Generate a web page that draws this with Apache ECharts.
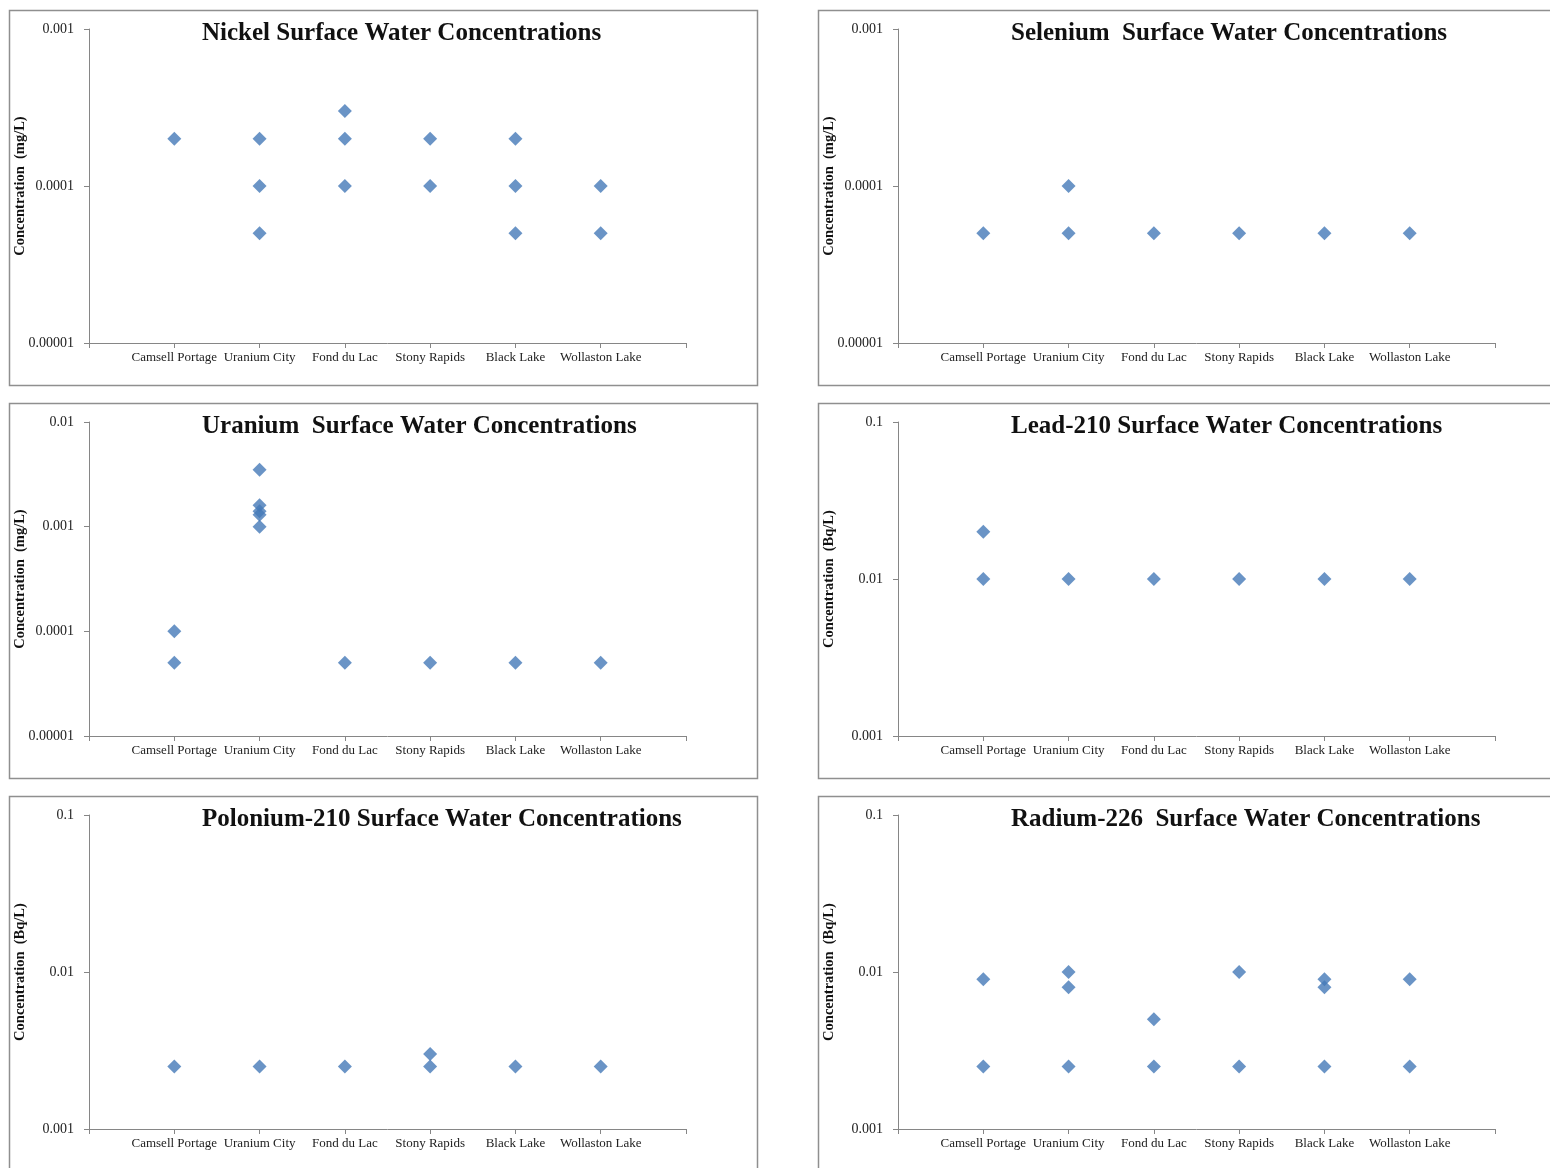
<!DOCTYPE html>
<html>
<head>
<meta charset="utf-8">
<script src="https://cdn.jsdelivr.net/npm/echarts@6/dist/echarts.min.js"></script>
<style>
html,body{margin:0;padding:0;background:#fff;}
#c{width:1550px;height:1168px;}
</style>
</head>
<body>
<div id="c"></div>
<script>
// ---- Data ----
const categories = ['Camsell Portage', 'Uranium City', 'Fond du Lac', 'Stony Rapids', 'Black Lake', 'Wollaston Lake'];

// values per site (index matches categories)
const nickel = [[0.0002], [0.0002, 0.0001, 0.00005], [0.0003, 0.0002, 0.0001], [0.0002, 0.0001], [0.0002, 0.0001, 0.00005], [0.0001, 0.00005]];
const selenium = [[0.00005], [0.0001, 0.00005], [0.00005], [0.00005], [0.00005], [0.00005]];
const uranium = [[0.0001, 0.00005], [0.0035, 0.0016, 0.0014, 0.0013, 0.001], [0.00005], [0.00005], [0.00005], [0.00005]];
const lead210 = [[0.02, 0.01], [0.01], [0.01], [0.01], [0.01], [0.01]];
const polonium210 = [[0.0025], [0.0025], [0.0025], [0.003, 0.0025], [0.0025], [0.0025]];
const radium226 = [[0.009, 0.0025], [0.01, 0.008, 0.0025], [0.005, 0.0025], [0.01, 0.0025], [0.009, 0.008, 0.0025], [0.009, 0.0025]];

const ticksMg5 = ['0.00001', '0.0001', '0.001'];
const ticksMgU = ['0.00001', '0.0001', '0.001', '0.01'];
const ticksBq = ['0.001', '0.01', '0.1'];

const titles = [
  'Nickel Surface Water Concentrations',
  'Selenium  Surface Water Concentrations',
  'Uranium  Surface Water Concentrations',
  'Lead-210 Surface Water Concentrations',
  'Polonium-210 Surface Water Concentrations',
  'Radium-226  Surface Water Concentrations'
];
const yNames = ['Concentration  (mg/L)', 'Concentration  (mg/L)', 'Concentration  (mg/L)', 'Concentration  (Bq/L)', 'Concentration  (Bq/L)', 'Concentration  (Bq/L)'];

const panels = [
  { data: nickel, ticks: ticksMg5 },
  { data: selenium, ticks: ticksMg5 },
  { data: uranium, ticks: ticksMgU },
  { data: lead210, ticks: ticksBq },
  { data: polonium210, ticks: ticksBq },
  { data: radium226, ticks: ticksBq }
];

// ---- Layout ----
const panelLeft = [9, 818];
const panelTop = [10, 403, 796];
const gridLeft = [89, 898];
const gridTop = [29, 422, 815];
const gridW = 597, gridH = 314;

const serif = '"Liberation Serif", "DejaVu Serif", serif';
const axisColor = '#868686';
const markerColor = '#4579B8';

const option = {
  backgroundColor: '#fff',
  animation: false,
  title: [],
  grid: [],
  xAxis: [],
  yAxis: [],
  series: [],
  graphic: []
};

panels.forEach((p, i) => {
  const col = i % 2, row = Math.floor(i / 2);
  // border
  option.graphic.push({
    type: 'rect', silent: true, z: -1,
    shape: { x: panelLeft[col] + 0.5, y: panelTop[row] + 0.5, width: col === 0 ? 748 : 800, height: row === 2 ? 420 : 375 },
    style: { fill: null, stroke: '#8f8f8f', lineWidth: 1.5 }
  });
  option.title.push({
    text: titles[i],
    left: panelLeft[col] + 188,
    top: panelTop[row] + 6,
    textStyle: { fontFamily: serif, fontWeight: 'bold', fontSize: 25, color: '#111' }
  });
  option.grid.push({ left: gridLeft[col], top: gridTop[row], width: gridW, height: gridH });
  option.xAxis.push({
    gridIndex: i, type: 'value', min: 0, max: 7, interval: 1,
    axisLine: { lineStyle: { color: axisColor, width: 1 } },
    axisTick: { show: true, length: 5, lineStyle: { color: axisColor } },
    splitLine: { show: false },
    axisLabel: {
      margin: 8, fontFamily: serif, fontSize: 13, color: '#222',
      showMinLabel: true, showMaxLabel: true,
      formatter: v => (v >= 1 && v <= categories.length) ? categories[v - 1] : ''
    }
  });
  const ticks = p.ticks;
  option.yAxis.push({
    gridIndex: i, type: 'log', logBase: 10,
    min: Number(ticks[0]), max: Number(ticks[ticks.length - 1]),
    name: yNames[i], nameLocation: 'middle', nameGap: 61, nameMoveOverlap: false,
    nameTextStyle: { fontFamily: serif, fontWeight: 'bold', fontSize: 14.5, color: '#111' },
    axisLine: { show: true, lineStyle: { color: axisColor, width: 1 } },
    axisTick: { show: true, length: 5, lineStyle: { color: axisColor } },
    splitLine: { show: false },
    minorTick: { show: false },
    axisLabel: {
      margin: 15, fontFamily: serif, fontSize: 14, color: '#222',
      formatter: v => {
        const k = Math.round(Math.log10(v) - Math.log10(Number(ticks[0])));
        return ticks[k] !== undefined ? ticks[k] : '';
      }
    }
  });
  const pts = [];
  p.data.forEach((vals, ci) => vals.forEach(v => pts.push([ci + 1, v])));
  option.series.push({
    type: 'scatter', xAxisIndex: i, yAxisIndex: i,
    symbol: 'diamond', symbolSize: 14,
    itemStyle: { color: markerColor },
    data: pts
  });
});

const chart = echarts.init(document.getElementById('c'), null, { renderer: 'canvas' });
chart.setOption(option);
</script>
</body>
</html>
